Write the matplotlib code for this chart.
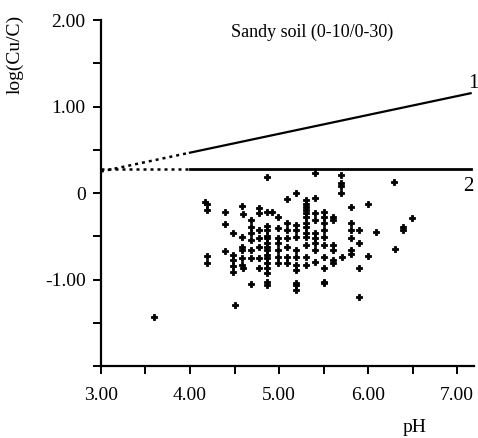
import matplotlib
matplotlib.use("Agg")
import matplotlib.pyplot as plt
import numpy as np

plt.rcParams['font.family'] = ['Liberation Serif', 'DejaVu Serif']

# scatter data (pH, log(Cu/C))
ph = [4.87, 5.40, 4.19, 4.17, 4.19, 4.39, 4.58, 4.59, 4.39, 4.48, 4.39, 4.19, 4.19,
      4.58, 4.58, 4.58, 4.48, 4.48, 4.48, 4.48, 4.58, 4.58, 4.59, 4.50,
      4.69, 4.69, 4.69, 4.69, 4.69, 4.69, 4.69,
      4.78, 4.78, 4.78, 4.78, 4.78, 4.78, 4.78, 4.87, 4.92,
      4.87, 4.87, 4.87, 4.87, 4.87, 4.87, 4.87, 4.87, 4.87, 4.87, 4.87, 4.87, 4.87, 4.87,
      4.99, 4.99, 4.99, 4.99, 4.99, 4.99, 4.99,
      5.09, 5.09, 5.09, 5.09, 5.09, 5.09, 5.09,
      5.19,
      5.19, 5.19, 5.19, 5.19, 5.19, 5.19, 5.19, 5.19, 5.19, 5.19,
      5.30, 5.30, 5.30, 5.30, 5.30, 5.30, 5.30, 5.30, 5.30, 5.30, 5.30, 5.30, 5.30,
      5.40, 5.40, 5.40, 5.40, 5.40, 5.40, 5.40, 5.40,
      5.50, 5.50, 5.50, 5.50, 5.50, 5.50, 5.50, 5.50, 5.50, 5.51,
      5.69, 5.69, 5.69, 5.69, 6.29,
      5.60, 5.60, 5.60, 5.60, 5.60, 5.60, 5.71,
      5.81, 5.81, 5.81, 5.81, 5.81, 5.81,
      5.90, 5.90, 5.90, 5.90,
      6.00, 6.00, 6.09, 6.30, 6.39, 6.39, 6.49,
      3.60]
logcu = [0.185, 0.23, -0.12, -0.10, -0.20, -0.22, -0.15, -0.24, -0.36, -0.46, -0.67, -0.73, -0.81,
         -0.51, -0.62, -0.66, -0.71, -0.77, -0.84, -0.91, -0.75, -0.83, -0.87, -1.29,
         -0.31, -0.39, -0.46, -0.54, -0.66, -0.75, -1.05,
         -0.17, -0.23, -0.43, -0.52, -0.62, -0.75, -0.87, -0.22, -0.22,
         -0.38, -0.43, -0.49, -0.52, -0.58, -0.62, -0.66, -0.72, -0.75, -0.81, -0.87, -0.92, -1.03, -1.06,
         -0.28, -0.40, -0.52, -0.58, -0.66, -0.74, -0.81,
         -0.07, -0.34, -0.43, -0.52, -0.62, -0.74, -0.81,
         0.0,
         -0.37, -0.43, -0.51, -0.66, -0.74, -0.83, -0.89, -1.04, -1.06, -1.12,
         -0.08, -0.12, -0.16, -0.20, -0.23, -0.28, -0.35, -0.39, -0.46, -0.51, -0.60, -0.74, -0.83,
         -0.06, -0.23, -0.31, -0.46, -0.52, -0.58, -0.66, -0.80,
         -0.22, -0.28, -0.34, -0.43, -0.51, -0.60, -0.74, -0.87, -1.03, -1.04,
         0.21, 0.12, 0.08, 0.0, 0.13,
         -0.28, -0.31, -0.60, -0.66, -0.77, -0.81, -0.74,
         -0.16, -0.34, -0.43, -0.52, -0.66, -0.70,
         -0.43, -0.58, -0.86, -1.20,
         -0.12, -0.73, -0.45, -0.65, -0.39, -0.43, -0.29,
         -1.43]

# reference lines
line1_x = [3.0, 4.0, 7.15]
line1_y = [0.25, 0.468, 1.155]
line2_x = [3.0, 4.0, 7.15]
line2_y = [0.28, 0.28, 0.28]

xticks = [3.0, 4.0, 5.0, 6.0, 7.0]
xticklabels = ["3.00", "4.00", "5.00", "6.00", "7.00"]
yticks = [-2.0, -1.0, 0.0, 1.0, 2.0]
yticklabels = ["", "-1.00", "0", "1.00", "2.00"]

fig = plt.figure(figsize=(4.78, 4.38), dpi=100)
ax = fig.add_axes([0.211, 0.164, 0.781, 0.790])

# dotted parts
ax.plot(line1_x[:2], line1_y[:2], color='black', lw=1.8, ls=(0, (1.2, 1.6)))
ax.plot(line2_x[:2], line2_y[:2], color='black', lw=1.8, ls=(0, (1.2, 1.6)))
# solid parts
ax.plot(line1_x[1:], line1_y[1:], color='black', lw=1.6)
ax.plot(line2_x[1:], line2_y[1:], color='black', lw=2.0)

ax.plot(ph, logcu, ls='none', marker='P', ms=4.8, color='black', mec='black', mew=0.6)

ax.set_xlim(3.0, 7.19)
ax.set_ylim(-2.0, 2.0)
ax.spines['top'].set_visible(False)
ax.spines['right'].set_visible(False)
ax.spines['left'].set_linewidth(1.6)
ax.spines['bottom'].set_linewidth(1.6)

ax.set_xticks(xticks)
ax.set_xticklabels(xticklabels)
ax.set_yticks(yticks)
ax.set_yticklabels(yticklabels)
ax.set_xticks([3.5, 4.5, 5.5, 6.5], minor=True)
ax.set_yticks([-1.5, -0.5, 0.5, 1.5], minor=True)
ax.tick_params(which='both', direction='out', width=1.4, length=6, labelsize=14)
ax.tick_params(axis='x', pad=9)
ax.tick_params(axis='y', pad=5)

ax.text(0.565, 0.965, "Sandy soil (0-10/0-30)", transform=ax.transAxes,
        ha='center', va='center', fontsize=13)
ax.text(7.18, 1.27, "1", ha='center', va='center', fontsize=15)
ax.text(7.12, 0.08, "2", ha='center', va='center', fontsize=15)

fig.text(0.032, 0.875, "log(Cu/C)", rotation=90, ha='center', va='center', fontsize=14)
fig.text(0.868, 0.025, "pH", ha='center', va='center', fontsize=14)

fig.savefig("out.png", dpi=100)
